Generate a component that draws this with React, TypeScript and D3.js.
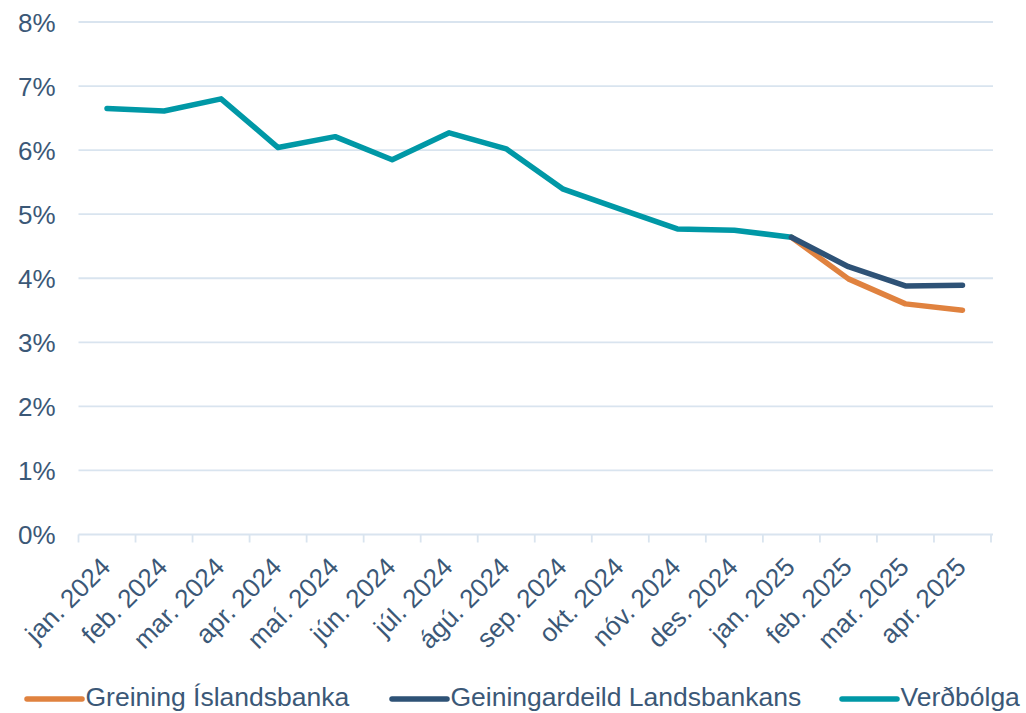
import React from "react";
import * as d3 from "d3";

const categories = [
  "jan. 2024", "feb. 2024", "mar. 2024", "apr. 2024", "maí. 2024", "jún. 2024",
  "júl. 2024", "ágú. 2024", "sep. 2024", "okt. 2024", "nóv. 2024", "des. 2024",
  "jan. 2025", "feb. 2025", "mar. 2025", "apr. 2025",
];
const verdbolga: (number | null)[] = [
  6.65, 6.61, 6.80, 6.04, 6.21, 5.85, 6.27, 6.02, 5.39, 5.08, 4.77, 4.75, 4.64,
  null, null, null,
];
const islandsbanki: (number | null)[] = [
  null, null, null, null, null, null, null, null, null, null, null, null, 4.64,
  3.99, 3.60, 3.50,
];
const landsbanki: (number | null)[] = [
  null, null, null, null, null, null, null, null, null, null, null, null, 4.64,
  4.18, 3.88, 3.89,
];
const yTicks = [0, 1, 2, 3, 4, 5, 6, 7, 8];
const seriesNames = ["Greining Íslandsbanka", "Geiningardeild Landsbankans", "Verðbólga"];

const COLORS = { isl: "#E0823F", lands: "#2E5276", verd: "#0098A6" };
const TEXT = "#3B5877";
const GRID = "#D9E4EF";
const FONT = "'Liberation Sans', Arial, sans-serif";

export default function App() {
  const W = 1026, H = 713;
  const left = 78.5, right = 991, top = 22, bottom = 534.5;
  const x = d3.scaleBand<string>().domain(categories).range([left, right]);
  const y = d3.scaleLinear().domain([0, 8]).range([bottom, top]);
  const cx = (c: string) => (x(c) as number) + x.bandwidth() / 2;
  const line = d3
    .line<number | null>()
    .defined((d) => d !== null)
    .x((_, i) => cx(categories[i]))
    .y((d) => y(d as number));

  const legendItems = [
    { name: seriesNames[0], color: COLORS.isl, x0: 27 },
    { name: seriesNames[1], color: COLORS.lands, x0: 392 },
    { name: seriesNames[2], color: COLORS.verd, x0: 842 },
  ];
  const tickEdges = categories.map((c) => x(c) as number).concat([right]);

  return (
    <svg
      width={W}
      height={H}
      style={{ position: "absolute", left: 0, top: 0, background: "#fff" }}
      fontFamily={FONT}
    >
      {yTicks.map((t) => (
        <g key={t}>
          <line x1={left} x2={right + 2} y1={y(t)} y2={y(t)} stroke={GRID} strokeWidth={1.8} />
          <text x={55.5} y={y(t) + 9.5} textAnchor="end" fontSize={26} fill={TEXT}>
            {t}%
          </text>
        </g>
      ))}
      {tickEdges.map((e, i) => (
        <line key={i} x1={e} x2={e} y1={bottom} y2={bottom + 8} stroke={GRID} strokeWidth={1.8} />
      ))}
      {categories.map((c) => (
        <text
          key={c}
          transform={`translate(${cx(c) + 5},${bottom + 34}) rotate(-45)`}
          textAnchor="end"
          fontSize={26}
          fill={TEXT}
        >
          {c}
        </text>
      ))}
      <path d={line(islandsbanki) || ""} fill="none" stroke={COLORS.isl} strokeWidth={5.5} strokeLinecap="round" strokeLinejoin="round" />
      <path d={line(verdbolga) || ""} fill="none" stroke={COLORS.verd} strokeWidth={5.5} strokeLinecap="round" strokeLinejoin="round" />
      <path d={line(landsbanki) || ""} fill="none" stroke={COLORS.lands} strokeWidth={5.5} strokeLinecap="round" strokeLinejoin="round" />
      {legendItems.map((it) => (
        <g key={it.name}>
          <line x1={it.x0} x2={it.x0 + 55} y1={699} y2={699} stroke={it.color} strokeWidth={5.5} strokeLinecap="round" />
          <text x={it.x0 + 58.5} y={706} fontSize={26.5} fill={TEXT}>
            {it.name}
          </text>
        </g>
      ))}
    </svg>
  );
}
